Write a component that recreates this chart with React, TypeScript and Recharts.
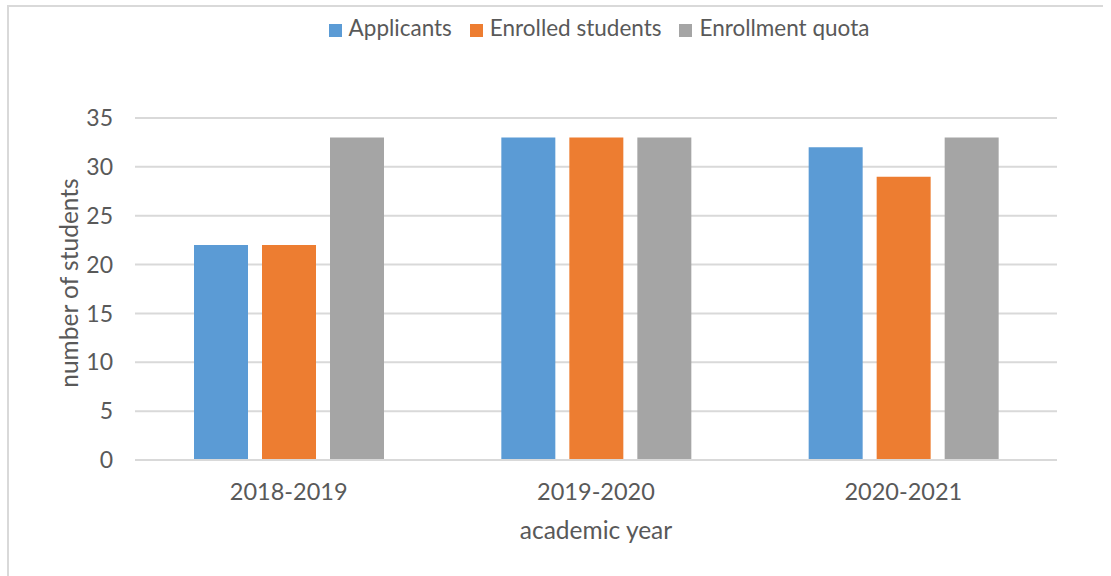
import { BarChart, Bar, XAxis, YAxis, CartesianGrid, Legend } from 'recharts'

const years = ['2018-2019', '2019-2020', '2020-2021']
const applicants = [22, 33, 32]
const enrolled = [22, 33, 29]
const quota = [33, 33, 33]
const yTicks = [0, 5, 10, 15, 20, 25, 30, 35]

const data = years.map((y, i) => ({
  year: y,
  applicants: applicants[i],
  enrolled: enrolled[i],
  quota: quota[i],
}))

const FONT = 'Lato, "Open Sans", sans-serif'
const TEXT = '#595959'
const GRID = '#d9d9d9'

export default function App() {
  return (
    <div style={{ position: 'absolute', left: 7, top: 5, borderLeft: `2px solid ${GRID}`, borderTop: `2px solid ${GRID}`, fontFamily: FONT }}>
      <BarChart width={1094} height={569} data={data} margin={{ top: 111, right: 46, bottom: 0, left: 0 }} barSize={54} barGap={14}>
        <CartesianGrid stroke={GRID} strokeWidth={2} vertical={false} />
        <XAxis
          dataKey="year"
          height={116}
          axisLine={{ stroke: GRID, strokeWidth: 2 }}
          tickLine={false}
          tickMargin={17}
          tick={{ fill: TEXT, fontSize: 23.5, fontFamily: FONT }}
          label={({ viewBox }: any) => (
            <text x={viewBox.x + viewBox.width / 2} y={viewBox.y + 79} textAnchor="middle" fill={TEXT} fontSize={24.5} fontFamily={FONT}>
              academic year
            </text>
          )}
        />
        <YAxis
          width={126}
          domain={[0, 35]}
          ticks={yTicks}
          axisLine={false}
          tickLine={false}
          tickMargin={16}
          tick={{ fill: TEXT, fontSize: 23, fontFamily: FONT }}
          label={({ viewBox }: any) => {
            const cx = viewBox.x + 69
            const cy = viewBox.y + viewBox.height / 2 - 6
            return (
              <text x={cx} y={cy} transform={`rotate(-90, ${cx}, ${cy})`} textAnchor="middle" fill={TEXT} fontSize={24.5} fontFamily={FONT}>
                number of students
              </text>
            )
          }}
        />
        <Legend
          verticalAlign="middle"
          align="center"
          iconType="square"
          iconSize={13}
          wrapperStyle={{ top: 7, left: 138, width: 922, fontSize: 22.5, fontFamily: FONT }}
          formatter={(v) => <span style={{ color: TEXT, marginLeft: 3, marginRight: 8 }}>{v}</span>}
        />
        <Bar dataKey="applicants" name="Applicants" fill="#5b9bd5" isAnimationActive={false} />
        <Bar dataKey="enrolled" name="Enrolled students" fill="#ed7d31" isAnimationActive={false} />
        <Bar dataKey="quota" name="Enrollment quota" fill="#a5a5a5" isAnimationActive={false} />
      </BarChart>
    </div>
  )
}
